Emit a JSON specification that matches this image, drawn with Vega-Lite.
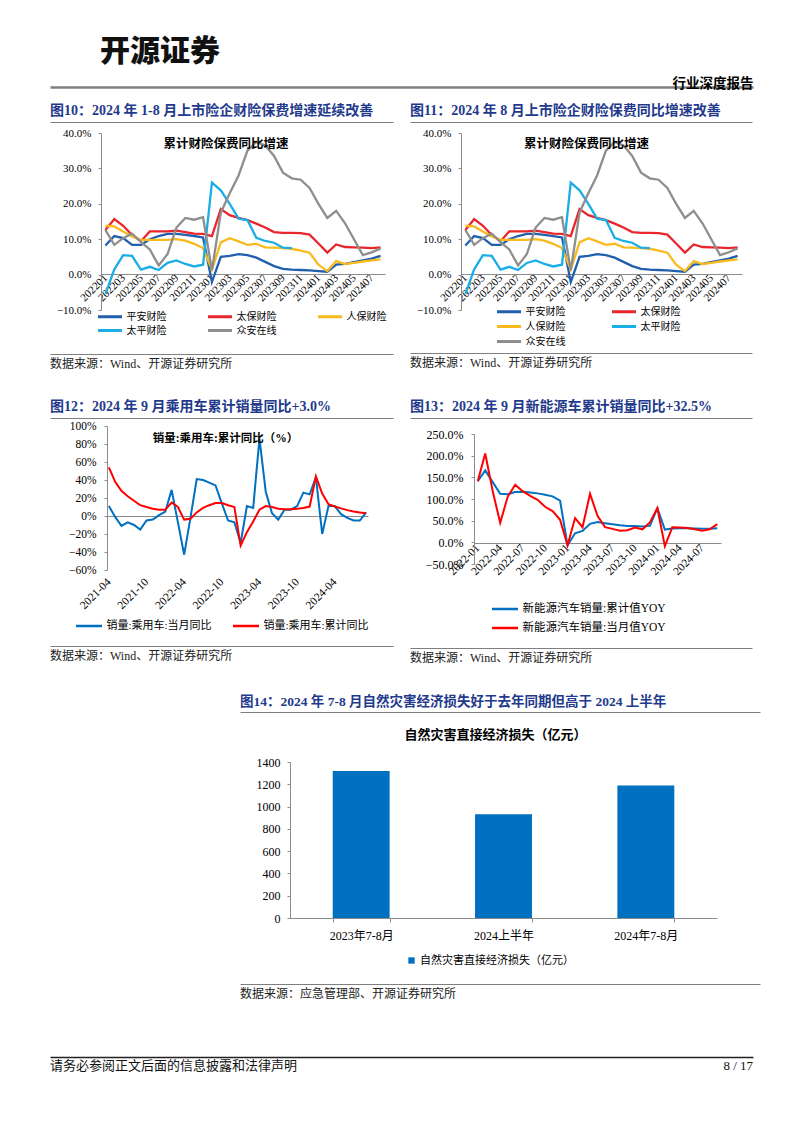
{
"$schema": "https://vega.github.io/schema/vega-lite/v6.json",
"background": "white",
"padding": {"left": 50, "top": 37, "right": 10, "bottom": 5},
"config": {
 "font": "Liberation Serif, Noto Sans CJK SC",
 "view": {"stroke": null},
 "axis": {"grid": false, "domainColor": "#8c8c8c", "tickColor": "#8c8c8c", "labelColor": "#000000"},
 "legend": {"labelColor": "#000000"},
 "title": {"color": "#000000"}
},
"datasets": {
 "ins": [
{"m":"202201","s":"平安财险","v":8.2},{"m":"202202","s":"平安财险","v":10.9},{"m":"202203","s":"平安财险","v":10.3},{"m":"202204","s":"平安财险","v":8.4},{"m":"202205","s":"平安财险","v":8.4},{"m":"202206","s":"平安财险","v":10.0},{"m":"202207","s":"平安财险","v":10.9},{"m":"202208","s":"平安财险","v":11.5},{"m":"202209","s":"平安财险","v":11.5},{"m":"202210","s":"平安财险","v":11.2},{"m":"202211","s":"平安财险","v":10.9},{"m":"202212","s":"平安财险","v":10.5},{"m":"202301","s":"平安财险","v":-2.1},{"m":"202302","s":"平安财险","v":5.0},{"m":"202303","s":"平安财险","v":5.3},{"m":"202304","s":"平安财险","v":5.8},{"m":"202305","s":"平安财险","v":5.5},{"m":"202306","s":"平安财险","v":4.8},{"m":"202307","s":"平安财险","v":3.6},{"m":"202308","s":"平安财险","v":2.4},{"m":"202309","s":"平安财险","v":1.6},{"m":"202310","s":"平安财险","v":1.4},{"m":"202311","s":"平安财险","v":1.3},{"m":"202312","s":"平安财险","v":1.2},{"m":"202401","s":"平安财险","v":1.0},{"m":"202402","s":"平安财险","v":0.8},{"m":"202403","s":"平安财险","v":2.8},{"m":"202404","s":"平安财险","v":3.0},{"m":"202405","s":"平安财险","v":3.5},{"m":"202406","s":"平安财险","v":4.0},{"m":"202407","s":"平安财险","v":4.5},{"m":"202408","s":"平安财险","v":5.3},
{"m":"202201","s":"太保财险","v":12.6},{"m":"202202","s":"太保财险","v":15.7},{"m":"202203","s":"太保财险","v":13.8},{"m":"202204","s":"太保财险","v":11.2},{"m":"202205","s":"太保财险","v":9.4},{"m":"202206","s":"太保财险","v":12.2},{"m":"202207","s":"太保财险","v":12.2},{"m":"202208","s":"太保财险","v":12.2},{"m":"202209","s":"太保财险","v":12.4},{"m":"202210","s":"太保财险","v":12.0},{"m":"202211","s":"太保财险","v":11.6},{"m":"202212","s":"太保财险","v":11.5},{"m":"202301","s":"太保财险","v":10.9},{"m":"202302","s":"太保财险","v":18.5},{"m":"202303","s":"太保财险","v":16.8},{"m":"202304","s":"太保财险","v":16.0},{"m":"202305","s":"太保财险","v":15.4},{"m":"202306","s":"太保财险","v":14.4},{"m":"202307","s":"太保财险","v":13.3},{"m":"202308","s":"太保财险","v":12.0},{"m":"202309","s":"太保财险","v":11.8},{"m":"202310","s":"太保财险","v":11.8},{"m":"202311","s":"太保财险","v":11.7},{"m":"202312","s":"太保财险","v":11.3},{"m":"202401","s":"太保财险","v":8.8},{"m":"202402","s":"太保财险","v":6.2},{"m":"202403","s":"太保财险","v":8.5},{"m":"202404","s":"太保财险","v":7.8},{"m":"202405","s":"太保财险","v":7.7},{"m":"202406","s":"太保财险","v":7.6},{"m":"202407","s":"太保财险","v":7.5},{"m":"202408","s":"太保财险","v":7.7},
{"m":"202201","s":"人保财险","v":13.8},{"m":"202202","s":"人保财险","v":13.6},{"m":"202203","s":"人保财险","v":12.2},{"m":"202204","s":"人保财险","v":10.8},{"m":"202205","s":"人保财险","v":9.8},{"m":"202206","s":"人保财险","v":9.8},{"m":"202207","s":"人保财险","v":9.8},{"m":"202208","s":"人保财险","v":9.8},{"m":"202209","s":"人保财险","v":10.0},{"m":"202210","s":"人保财险","v":9.6},{"m":"202211","s":"人保财险","v":8.7},{"m":"202212","s":"人保财险","v":7.5},{"m":"202301","s":"人保财险","v":1.4},{"m":"202302","s":"人保财险","v":9.1},{"m":"202303","s":"人保财险","v":10.3},{"m":"202304","s":"人保财险","v":9.4},{"m":"202305","s":"人保财险","v":8.4},{"m":"202306","s":"人保财险","v":8.7},{"m":"202307","s":"人保财险","v":7.7},{"m":"202308","s":"人保财险","v":7.6},{"m":"202309","s":"人保财险","v":7.5},{"m":"202310","s":"人保财险","v":7.3},{"m":"202311","s":"人保财险","v":6.8},{"m":"202312","s":"人保财险","v":6.2},{"m":"202401","s":"人保财险","v":2.8},{"m":"202402","s":"人保财险","v":1.0},{"m":"202403","s":"人保财险","v":3.8},{"m":"202404","s":"人保财险","v":3.0},{"m":"202405","s":"人保财险","v":3.3},{"m":"202406","s":"人保财险","v":3.7},{"m":"202407","s":"人保财险","v":4.0},{"m":"202408","s":"人保财险","v":4.3},
{"m":"202201","s":"太平财险","v":-5.5},{"m":"202202","s":"太平财险","v":1.5},{"m":"202203","s":"太平财险","v":5.5},{"m":"202204","s":"太平财险","v":5.3},{"m":"202205","s":"太平财险","v":1.4},{"m":"202206","s":"太平财险","v":2.2},{"m":"202207","s":"太平财险","v":1.3},{"m":"202208","s":"太平财险","v":3.3},{"m":"202209","s":"太平财险","v":4.0},{"m":"202210","s":"太平财险","v":3.0},{"m":"202211","s":"太平财险","v":2.3},{"m":"202212","s":"太平财险","v":2.8},{"m":"202301","s":"太平财险","v":26.0},{"m":"202302","s":"太平财险","v":23.8},{"m":"202303","s":"太平财险","v":20.0},{"m":"202304","s":"太平财险","v":15.8},{"m":"202305","s":"太平财险","v":15.4},{"m":"202306","s":"太平财险","v":10.4},{"m":"202307","s":"太平财险","v":9.5},{"m":"202308","s":"太平财险","v":9.0},{"m":"202309","s":"太平财险","v":7.6},{"m":"202310","s":"太平财险","v":7.5},
{"m":"202201","s":"众安在线","v":12.6},{"m":"202202","s":"众安在线","v":8.4},{"m":"202203","s":"众安在线","v":10.3},{"m":"202204","s":"众安在线","v":11.6},{"m":"202205","s":"众安在线","v":9.2},{"m":"202206","s":"众安在线","v":7.1},{"m":"202207","s":"众安在线","v":2.6},{"m":"202208","s":"众安在线","v":5.8},{"m":"202209","s":"众安在线","v":13.3},{"m":"202210","s":"众安在线","v":16.0},{"m":"202211","s":"众安在线","v":15.5},{"m":"202212","s":"众安在线","v":16.2},{"m":"202301","s":"众安在线","v":1.2},{"m":"202302","s":"众安在线","v":17.5},{"m":"202303","s":"众安在线","v":23.0},{"m":"202304","s":"众安在线","v":28.0},{"m":"202305","s":"众安在线","v":35.0},{"m":"202306","s":"众安在线","v":37.5},{"m":"202307","s":"众安在线","v":36.5},{"m":"202308","s":"众安在线","v":33.5},{"m":"202309","s":"众安在线","v":28.8},{"m":"202310","s":"众安在线","v":27.2},{"m":"202311","s":"众安在线","v":26.8},{"m":"202312","s":"众安在线","v":24.5},{"m":"202401","s":"众安在线","v":20.0},{"m":"202402","s":"众安在线","v":16.0},{"m":"202403","s":"众安在线","v":18.0},{"m":"202404","s":"众安在线","v":14.5},{"m":"202405","s":"众安在线","v":10.0},{"m":"202406","s":"众安在线","v":5.5},{"m":"202407","s":"众安在线","v":6.3},{"m":"202408","s":"众安在线","v":7.4}
 ],
 "car": [
{"m":"2021-04","s":"销量:乘用车:当月同比","v":11},{"m":"2021-05","s":"销量:乘用车:当月同比","v":-1},{"m":"2021-06","s":"销量:乘用车:当月同比","v":-11},{"m":"2021-07","s":"销量:乘用车:当月同比","v":-7},{"m":"2021-08","s":"销量:乘用车:当月同比","v":-10},{"m":"2021-09","s":"销量:乘用车:当月同比","v":-15},{"m":"2021-10","s":"销量:乘用车:当月同比","v":-5},{"m":"2021-11","s":"销量:乘用车:当月同比","v":-4},{"m":"2021-12","s":"销量:乘用车:当月同比","v":1},
{"m":"2022-01","s":"销量:乘用车:当月同比","v":5},{"m":"2022-02","s":"销量:乘用车:当月同比","v":29},{"m":"2022-03","s":"销量:乘用车:当月同比","v":-7},{"m":"2022-04","s":"销量:乘用车:当月同比","v":-43},{"m":"2022-05","s":"销量:乘用车:当月同比","v":-2},{"m":"2022-06","s":"销量:乘用车:当月同比","v":41},{"m":"2022-07","s":"销量:乘用车:当月同比","v":40},{"m":"2022-08","s":"销量:乘用车:当月同比","v":37},{"m":"2022-09","s":"销量:乘用车:当月同比","v":34},{"m":"2022-10","s":"销量:乘用车:当月同比","v":14},{"m":"2022-11","s":"销量:乘用车:当月同比","v":-5},{"m":"2022-12","s":"销量:乘用车:当月同比","v":-7},
{"m":"2023-01","s":"销量:乘用车:当月同比","v":-30},{"m":"2023-02","s":"销量:乘用车:当月同比","v":11},{"m":"2023-03","s":"销量:乘用车:当月同比","v":9},{"m":"2023-04","s":"销量:乘用车:当月同比","v":86},{"m":"2023-05","s":"销量:乘用车:当月同比","v":27},{"m":"2023-06","s":"销量:乘用车:当月同比","v":3},{"m":"2023-07","s":"销量:乘用车:当月同比","v":-4},{"m":"2023-08","s":"销量:乘用车:当月同比","v":7},{"m":"2023-09","s":"销量:乘用车:当月同比","v":7},{"m":"2023-10","s":"销量:乘用车:当月同比","v":11},{"m":"2023-11","s":"销量:乘用车:当月同比","v":26},{"m":"2023-12","s":"销量:乘用车:当月同比","v":24},
{"m":"2024-01","s":"销量:乘用车:当月同比","v":43},{"m":"2024-02","s":"销量:乘用车:当月同比","v":-20},{"m":"2024-03","s":"销量:乘用车:当月同比","v":11},{"m":"2024-04","s":"销量:乘用车:当月同比","v":11},{"m":"2024-05","s":"销量:乘用车:当月同比","v":2},{"m":"2024-06","s":"销量:乘用车:当月同比","v":-2},{"m":"2024-07","s":"销量:乘用车:当月同比","v":-5},{"m":"2024-08","s":"销量:乘用车:当月同比","v":-5},{"m":"2024-09","s":"销量:乘用车:当月同比","v":4},
{"m":"2021-04","s":"销量:乘用车:累计同比","v":54},{"m":"2021-05","s":"销量:乘用车:累计同比","v":38},{"m":"2021-06","s":"销量:乘用车:累计同比","v":28},{"m":"2021-07","s":"销量:乘用车:累计同比","v":22},{"m":"2021-08","s":"销量:乘用车:累计同比","v":17},{"m":"2021-09","s":"销量:乘用车:累计同比","v":12},{"m":"2021-10","s":"销量:乘用车:累计同比","v":10},{"m":"2021-11","s":"销量:乘用车:累计同比","v":8},{"m":"2021-12","s":"销量:乘用车:累计同比","v":7},
{"m":"2022-01","s":"销量:乘用车:累计同比","v":7},{"m":"2022-02","s":"销量:乘用车:累计同比","v":15},{"m":"2022-03","s":"销量:乘用车:累计同比","v":10},{"m":"2022-04","s":"销量:乘用车:累计同比","v":-4},{"m":"2022-05","s":"销量:乘用车:累计同比","v":-3},{"m":"2022-06","s":"销量:乘用车:累计同比","v":4},{"m":"2022-07","s":"销量:乘用车:累计同比","v":9},{"m":"2022-08","s":"销量:乘用车:累计同比","v":12},{"m":"2022-09","s":"销量:乘用车:累计同比","v":14.5},{"m":"2022-10","s":"销量:乘用车:累计同比","v":14.5},{"m":"2022-11","s":"销量:乘用车:累计同比","v":12},{"m":"2022-12","s":"销量:乘用车:累计同比","v":10},
{"m":"2023-01","s":"销量:乘用车:累计同比","v":-33},{"m":"2023-02","s":"销量:乘用车:累计同比","v":-18},{"m":"2023-03","s":"销量:乘用车:累计同比","v":-6},{"m":"2023-04","s":"销量:乘用车:累计同比","v":7},{"m":"2023-05","s":"销量:乘用车:累计同比","v":11},{"m":"2023-06","s":"销量:乘用车:累计同比","v":10},{"m":"2023-07","s":"销量:乘用车:累计同比","v":8},{"m":"2023-08","s":"销量:乘用车:累计同比","v":7.5},{"m":"2023-09","s":"销量:乘用车:累计同比","v":7.5},{"m":"2023-10","s":"销量:乘用车:累计同比","v":8},{"m":"2023-11","s":"销量:乘用车:累计同比","v":9},{"m":"2023-12","s":"销量:乘用车:累计同比","v":10.5},
{"m":"2024-01","s":"销量:乘用车:累计同比","v":44},{"m":"2024-02","s":"销量:乘用车:累计同比","v":25},{"m":"2024-03","s":"销量:乘用车:累计同比","v":13},{"m":"2024-04","s":"销量:乘用车:累计同比","v":10.5},{"m":"2024-05","s":"销量:乘用车:累计同比","v":8.5},{"m":"2024-06","s":"销量:乘用车:累计同比","v":6.5},{"m":"2024-07","s":"销量:乘用车:累计同比","v":5},{"m":"2024-08","s":"销量:乘用车:累计同比","v":4},{"m":"2024-09","s":"销量:乘用车:累计同比","v":3}
 ],
 "nev": [
{"m":"2022-01","s":"新能源汽车销量:累计值YOY","v":141},{"m":"2022-02","s":"新能源汽车销量:累计值YOY","v":166},{"m":"2022-03","s":"新能源汽车销量:累计值YOY","v":139},{"m":"2022-04","s":"新能源汽车销量:累计值YOY","v":112},{"m":"2022-05","s":"新能源汽车销量:累计值YOY","v":111},{"m":"2022-06","s":"新能源汽车销量:累计值YOY","v":116},{"m":"2022-07","s":"新能源汽车销量:累计值YOY","v":117},{"m":"2022-08","s":"新能源汽车销量:累计值YOY","v":115},{"m":"2022-09","s":"新能源汽车销量:累计值YOY","v":113},{"m":"2022-10","s":"新能源汽车销量:累计值YOY","v":110},{"m":"2022-11","s":"新能源汽车销量:累计值YOY","v":106},{"m":"2022-12","s":"新能源汽车销量:累计值YOY","v":96},
{"m":"2023-01","s":"新能源汽车销量:累计值YOY","v":-6.9},{"m":"2023-02","s":"新能源汽车销量:累计值YOY","v":20.8},{"m":"2023-03","s":"新能源汽车销量:累计值YOY","v":26.2},{"m":"2023-04","s":"新能源汽车销量:累计值YOY","v":42.8},{"m":"2023-05","s":"新能源汽车销量:累计值YOY","v":46.8},{"m":"2023-06","s":"新能源汽车销量:累计值YOY","v":44.1},{"m":"2023-07","s":"新能源汽车销量:累计值YOY","v":41.7},{"m":"2023-08","s":"新能源汽车销量:累计值YOY","v":39.2},{"m":"2023-09","s":"新能源汽车销量:累计值YOY","v":37.8},{"m":"2023-10","s":"新能源汽车销量:累计值YOY","v":37.5},{"m":"2023-11","s":"新能源汽车销量:累计值YOY","v":36.7},{"m":"2023-12","s":"新能源汽车销量:累计值YOY","v":37.9},
{"m":"2024-01","s":"新能源汽车销量:累计值YOY","v":78.8},{"m":"2024-02","s":"新能源汽车销量:累计值YOY","v":29.4},{"m":"2024-03","s":"新能源汽车销量:累计值YOY","v":31.8},{"m":"2024-04","s":"新能源汽车销量:累计值YOY","v":32.3},{"m":"2024-05","s":"新能源汽车销量:累计值YOY","v":32.5},{"m":"2024-06","s":"新能源汽车销量:累计值YOY","v":32.0},{"m":"2024-07","s":"新能源汽车销量:累计值YOY","v":31.1},{"m":"2024-08","s":"新能源汽车销量:累计值YOY","v":31.2},{"m":"2024-09","s":"新能源汽车销量:累计值YOY","v":32.5},
{"m":"2022-01","s":"新能源汽车销量:当月值YOY","v":141},{"m":"2022-02","s":"新能源汽车销量:当月值YOY","v":205},{"m":"2022-03","s":"新能源汽车销量:当月值YOY","v":118},{"m":"2022-04","s":"新能源汽车销量:当月值YOY","v":45},{"m":"2022-05","s":"新能源汽车销量:当月值YOY","v":105},{"m":"2022-06","s":"新能源汽车销量:当月值YOY","v":133},{"m":"2022-07","s":"新能源汽车销量:当月值YOY","v":118},{"m":"2022-08","s":"新能源汽车销量:当月值YOY","v":107},{"m":"2022-09","s":"新能源汽车销量:当月值YOY","v":98},{"m":"2022-10","s":"新能源汽车销量:当月值YOY","v":82},{"m":"2022-11","s":"新能源汽车销量:当月值YOY","v":72},{"m":"2022-12","s":"新能源汽车销量:当月值YOY","v":52},
{"m":"2023-01","s":"新能源汽车销量:当月值YOY","v":-6.9},{"m":"2023-02","s":"新能源汽车销量:当月值YOY","v":56},{"m":"2023-03","s":"新能源汽车销量:当月值YOY","v":35},{"m":"2023-04","s":"新能源汽车销量:当月值YOY","v":112},{"m":"2023-05","s":"新能源汽车销量:当月值YOY","v":61},{"m":"2023-06","s":"新能源汽车销量:当月值YOY","v":35},{"m":"2023-07","s":"新能源汽车销量:当月值YOY","v":31},{"m":"2023-08","s":"新能源汽车销量:当月值YOY","v":27},{"m":"2023-09","s":"新能源汽车销量:当月值YOY","v":28},{"m":"2023-10","s":"新能源汽车销量:当月值YOY","v":34},{"m":"2023-11","s":"新能源汽车销量:当月值YOY","v":30},{"m":"2023-12","s":"新能源汽车销量:当月值YOY","v":46},
{"m":"2024-01","s":"新能源汽车销量:当月值YOY","v":79},{"m":"2024-02","s":"新能源汽车销量:当月值YOY","v":-9},{"m":"2024-03","s":"新能源汽车销量:当月值YOY","v":35},{"m":"2024-04","s":"新能源汽车销量:当月值YOY","v":34},{"m":"2024-05","s":"新能源汽车销量:当月值YOY","v":33},{"m":"2024-06","s":"新能源汽车销量:当月值YOY","v":30},{"m":"2024-07","s":"新能源汽车销量:当月值YOY","v":27},{"m":"2024-08","s":"新能源汽车销量:当月值YOY","v":30},{"m":"2024-09","s":"新能源汽车销量:当月值YOY","v":42}
 ],
 "dis": [
{"c":"2023年7-8月","v":1320},{"c":"2024上半年","v":931.6},{"c":"2024年7-8月","v":1190}
 ],
 "one": [{"v": 0}]
},
"spacing": 14,
"resolve": {"scale": {"color": "independent"}, "legend": {"color": "independent"}},
"vconcat": [
 {
  "width": 703, "height": 1,
  "data": {"name": "one"},
  "mark": {"type": "point", "size": 0, "opacity": 0},
  "encoding": {"x": {"field": "v", "type": "quantitative", "scale": {"domain": [0, 1]}, "axis": {"orient": "top", "ticks": false, "labels": false, "domainColor": "#7f7f7f", "domainWidth": 2.5, "title": "行业深度报告", "titleAnchor": "end", "titleFontSize": 13.5, "titleFontWeight": "bold", "titlePadding": -3, "titleColor": "#000000", "titleFont": "Noto Sans CJK SC"}}},
  "title": {"text": "开源证券", "anchor": "start", "dx": 50, "offset": 9, "fontSize": 30, "fontWeight": 900, "font": "Noto Sans CJK SC", "color": "#111111"}
 },
 {
  "spacing": 30,
  "resolve": {"scale": {"color": "independent"}, "legend": {"color": "independent"}},
  "vconcat": [
   {
    "spacing": 17,
    "resolve": {"scale": {"color": "independent"}, "legend": {"color": "independent"}},
    "hconcat": [
     {
      "spacing": 4,
      "resolve": {"scale": {"color": "independent"}, "legend": {"color": "independent"}},
      "vconcat": [
       {
        "width": 343, "height": 1,
        "data": {"name": "one"},
        "mark": {"type": "point", "size": 0, "opacity": 0},
        "encoding": {"x": {"field": "v", "type": "quantitative", "scale": {"domain": [0, 1]}, "axis": {"orient": "top", "ticks": false, "labels": false, "title": null, "domainColor": "#7f7f7f", "domainWidth": 1.2}}},
        "title": {"text": "图10：2024 年 1-8 月上市险企财险保费增速延续改善", "anchor": "start", "fontSize": 14, "fontWeight": "bold", "color": "#233A8C", "offset": 4}
       },
       {
        "spacing": 17,
        "resolve": {"scale": {"color": "independent"}, "legend": {"color": "independent"}},
        "vconcat": [
         {
          "spacing": 0,
          "resolve": {"scale": {"color": "independent"}, "legend": {"color": "independent"}},
          "hconcat": [
           {"width": 1, "height": 1, "data": {"name": "one"}, "mark": {"type": "point", "size": 0, "opacity": 0}},
           {
            "width": 284, "height": 177,
            "data": {"name": "ins"},
            "title": {"text": "累计财险保费同比增速", "anchor": "middle", "frame": "group", "dx": -17, "offset": -23, "fontSize": 12.5, "fontWeight": "bold"},
            "mark": {"type": "line", "strokeWidth": 2.3},
            "encoding": {
             "x": {"field": "m", "type": "ordinal", "scale": {"type": "point", "padding": 0.5}, "axis": {"title": null, "offset": -36, "values": ["202201","202203","202205","202207","202209","202211","202301","202303","202305","202307","202309","202311","202401","202403","202405","202407"], "labelAngle": -45, "labelAlign": "right", "labelBaseline": "middle", "labelFontSize": 11, "labelPadding": 2, "ticks": false, "labelOverlap": false}},
             "y": {"field": "v", "type": "quantitative", "scale": {"domain": [-10, 40], "nice": false}, "axis": {"title": null, "values": [-10,0,10,20,30,40], "labelExpr": "format(datum.value, '.1f') + '%'", "tickSize": 3, "labelPadding": 7, "labelFontSize": 11, "labelOverlap": false, "minExtent": 50, "maxExtent": 50}},
             "color": {"field": "s", "type": "nominal", "scale": {"domain": ["平安财险","太保财险","人保财险","太平财险","众安在线"], "range": ["#1F5FAD","#E8262C","#F8BA1C","#1AADE6","#8E8E8E"]}, "legend": {"orient": "none", "legendX": 1.5, "legendY": 176, "direction": "horizontal", "columns": 3, "title": null, "symbolType": "M-2,0H2", "symbolStrokeWidth": 3, "symbolSize": 144, "labelFontSize": 10, "columnPadding": 35, "rowPadding": 0, "labelOffset": 9}}
            }
           }
          ]
         },
         {
          "width": 343, "height": 1,
          "data": {"name": "one"},
          "mark": {"type": "point", "size": 0, "opacity": 0},
          "encoding": {"x": {"field": "v", "type": "quantitative", "scale": {"domain": [0, 1]}, "axis": {"orient": "top", "ticks": false, "labels": false, "title": null, "domainColor": "#7f7f7f", "domainWidth": 1.2}}},
          "title": {"text": "数据来源：Wind、开源证券研究所", "orient": "bottom", "anchor": "start", "fontSize": 12, "fontWeight": "normal", "offset": 4, "color": "#222222"}
         }
        ]
       }
      ]
     },
     {
      "spacing": 4,
      "resolve": {"scale": {"color": "independent"}, "legend": {"color": "independent"}},
      "vconcat": [
       {
        "width": 342, "height": 1,
        "data": {"name": "one"},
        "mark": {"type": "point", "size": 0, "opacity": 0},
        "encoding": {"x": {"field": "v", "type": "quantitative", "scale": {"domain": [0, 1]}, "axis": {"orient": "top", "ticks": false, "labels": false, "title": null, "domainColor": "#7f7f7f", "domainWidth": 1.2}}},
        "title": {"text": "图11：2024 年 8 月上市险企财险保费同比增速改善", "anchor": "start", "fontSize": 14, "fontWeight": "bold", "color": "#233A8C", "offset": 4}
       },
       {
        "spacing": 5,
        "resolve": {"scale": {"color": "independent"}, "legend": {"color": "independent"}},
        "vconcat": [
         {
          "spacing": 0,
          "resolve": {"scale": {"color": "independent"}, "legend": {"color": "independent"}},
          "hconcat": [
           {"width": 1, "height": 1, "data": {"name": "one"}, "mark": {"type": "point", "size": 0, "opacity": 0}},
           {
            "width": 281, "height": 177,
            "data": {"name": "ins"},
            "title": {"text": "累计财险保费同比增速", "anchor": "middle", "frame": "group", "dx": -15, "offset": -23, "fontSize": 12.5, "fontWeight": "bold"},
            "mark": {"type": "line", "strokeWidth": 2.3},
            "encoding": {
             "x": {"field": "m", "type": "ordinal", "scale": {"type": "point", "padding": 0.5}, "axis": {"title": null, "offset": -36, "values": ["202201","202203","202205","202207","202209","202211","202301","202303","202305","202307","202309","202311","202401","202403","202405","202407"], "labelAngle": -45, "labelAlign": "right", "labelBaseline": "middle", "labelFontSize": 11, "labelPadding": 2, "ticks": false, "labelOverlap": false}},
             "y": {"field": "v", "type": "quantitative", "scale": {"domain": [-10, 40], "nice": false}, "axis": {"title": null, "values": [-10,0,10,20,30,40], "labelExpr": "format(datum.value, '.1f') + '%'", "tickSize": 3, "labelPadding": 7, "labelFontSize": 11, "labelOverlap": false, "minExtent": 50, "maxExtent": 50}},
             "color": {"field": "s", "type": "nominal", "scale": {"domain": ["平安财险","太保财险","人保财险","太平财险","众安在线"], "range": ["#1F5FAD","#E8262C","#F8BA1C","#1AADE6","#8E8E8E"]}, "legend": {"orient": "none", "legendX": 40.5, "legendY": 171, "direction": "horizontal", "columns": 2, "title": null, "symbolType": "M-2,0H2", "symbolStrokeWidth": 3, "symbolSize": 144, "labelFontSize": 10, "columnPadding": 40, "rowPadding": 1, "labelOffset": 9}}
            }
           }
          ]
         },
         {
          "width": 342, "height": 1,
          "data": {"name": "one"},
          "mark": {"type": "point", "size": 0, "opacity": 0},
          "encoding": {"x": {"field": "v", "type": "quantitative", "scale": {"domain": [0, 1]}, "axis": {"orient": "top", "ticks": false, "labels": false, "title": null, "domainColor": "#7f7f7f", "domainWidth": 1.2}}},
          "title": {"text": "数据来源：Wind、开源证券研究所", "orient": "bottom", "anchor": "start", "fontSize": 12, "fontWeight": "normal", "offset": 4, "color": "#222222"}
         }
        ]
       }
      ]
     }
    ]
   },
   {
    "spacing": 17,
    "resolve": {"scale": {"color": "independent"}, "legend": {"color": "independent"}},
    "hconcat": [
     {
      "spacing": 1,
      "resolve": {"scale": {"color": "independent"}, "legend": {"color": "independent"}},
      "vconcat": [
       {
        "width": 343, "height": 1,
        "data": {"name": "one"},
        "mark": {"type": "point", "size": 0, "opacity": 0},
        "encoding": {"x": {"field": "v", "type": "quantitative", "scale": {"domain": [0, 1]}, "axis": {"orient": "top", "ticks": false, "labels": false, "title": null, "domainColor": "#7f7f7f", "domainWidth": 1.2}}},
        "title": {"text": "图12：2024 年 9 月乘用车累计销量同比+3.0%", "anchor": "start", "fontSize": 14, "fontWeight": "bold", "color": "#233A8C", "offset": 4}
       },
       {
        "spacing": 15,
        "resolve": {"scale": {"color": "independent"}, "legend": {"color": "independent"}},
        "vconcat": [
         {
          "spacing": 0,
          "resolve": {"scale": {"color": "independent"}, "legend": {"color": "independent"}},
          "hconcat": [
           {"width": 1, "height": 1, "data": {"name": "one"}, "mark": {"type": "point", "size": 0, "opacity": 0}},
           {
            "width": 261, "height": 144,
            "data": {"name": "car"},
            "title": {"text": "销量:乘用车:累计同比（%）", "anchor": "middle", "frame": "group", "dx": -12, "offset": -24, "fontSize": 11.5, "fontWeight": "bold"},
            "mark": {"type": "line", "strokeWidth": 2},
            "encoding": {
             "x": {"field": "m", "type": "ordinal", "scale": {"type": "point", "padding": 0.3}, "axis": {"title": null, "values": ["2021-04","2021-10","2022-04","2022-10","2023-04","2023-10","2024-04"], "labelAngle": -45, "labelAlign": "right", "labelBaseline": "middle", "labelFontSize": 11.5, "labelPadding": 10, "ticks": false, "domain": false, "labelOverlap": false}},
             "y": {"field": "v", "type": "quantitative", "scale": {"domain": [-60, 100], "nice": false}, "axis": {"title": null, "values": [-60,-40,-20,0,20,40,60,80,100], "labelExpr": "format(datum.value, 'd') + '%'", "tickSize": 3, "labelPadding": 8, "labelFontSize": 11.5, "labelOverlap": false, "grid": true, "gridWidth": 1, "gridColor": {"condition": {"test": "datum.value === 0", "value": "#8c8c8c"}, "value": "transparent"}, "minExtent": 56, "maxExtent": 56}},
             "color": {"field": "s", "type": "nominal", "scale": {"domain": ["销量:乘用车:当月同比", "销量:乘用车:累计同比"], "range": ["#0070C0", "#FF0000"]}, "legend": {"orient": "none", "legendX": -26, "legendY": 192, "direction": "horizontal", "title": null, "symbolType": "M-2,0H2", "symbolStrokeWidth": 2.5, "symbolSize": 169, "labelFontSize": 11, "columnPadding": 16, "labelOffset": 9.5}}
            }
           }
          ]
         },
         {
          "width": 343, "height": 1,
          "data": {"name": "one"},
          "mark": {"type": "point", "size": 0, "opacity": 0},
          "encoding": {"x": {"field": "v", "type": "quantitative", "scale": {"domain": [0, 1]}, "axis": {"orient": "top", "ticks": false, "labels": false, "title": null, "domainColor": "#7f7f7f", "domainWidth": 1.2}}},
          "title": {"text": "数据来源：Wind、开源证券研究所", "orient": "bottom", "anchor": "start", "fontSize": 12, "fontWeight": "normal", "offset": 4, "color": "#222222"}
         }
        ]
       }
      ]
     },
     {
      "spacing": 9,
      "resolve": {"scale": {"color": "independent"}, "legend": {"color": "independent"}},
      "vconcat": [
       {
        "width": 342, "height": 1,
        "data": {"name": "one"},
        "mark": {"type": "point", "size": 0, "opacity": 0},
        "encoding": {"x": {"field": "v", "type": "quantitative", "scale": {"domain": [0, 1]}, "axis": {"orient": "top", "ticks": false, "labels": false, "title": null, "domainColor": "#7f7f7f", "domainWidth": 1.2}}},
        "title": {"text": "图13：2024 年 9 月新能源车累计销量同比+32.5%", "anchor": "start", "fontSize": 14, "fontWeight": "bold", "color": "#233A8C", "offset": 4}
       },
       {
        "spacing": 14,
        "resolve": {"scale": {"color": "independent"}, "legend": {"color": "independent"}},
        "vconcat": [
         {
          "spacing": 0,
          "resolve": {"scale": {"color": "independent"}, "legend": {"color": "independent"}},
          "hconcat": [
           {"width": 1, "height": 1, "data": {"name": "one"}, "mark": {"type": "point", "size": 0, "opacity": 0}},
           {
            "width": 247, "height": 130,
            "data": {"name": "nev"},
            "mark": {"type": "line", "strokeWidth": 2},
            "encoding": {
             "x": {"field": "m", "type": "ordinal", "scale": {"type": "point", "padding": 0.5}, "axis": {"title": null, "offset": -21, "values": ["2022-01","2022-04","2022-07","2022-10","2023-01","2023-04","2023-07","2023-10","2024-01","2024-04","2024-07"], "labelAngle": -45, "labelAlign": "right", "labelBaseline": "middle", "labelFontSize": 11.5, "labelPadding": 3, "ticks": false, "labelOverlap": false}},
             "y": {"field": "v", "type": "quantitative", "scale": {"domain": [-50, 250], "nice": false}, "axis": {"title": null, "values": [-50,0,50,100,150,200,250], "labelExpr": "format(datum.value, '.1f') + '%'", "tickSize": 3, "labelPadding": 8, "labelFontSize": 12, "labelOverlap": false, "minExtent": 63, "maxExtent": 63}},
             "color": {"field": "s", "type": "nominal", "scale": {"domain": ["新能源汽车销量:累计值YOY", "新能源汽车销量:当月值YOY"], "range": ["#0070C0", "#FF0000"]}, "legend": {"orient": "none", "legendX": 23, "legendY": 167, "direction": "vertical", "title": null, "symbolType": "M-2,0H2", "symbolStrokeWidth": 2.5, "symbolSize": 169, "labelFontSize": 11.5, "rowPadding": 5, "labelOffset": 9.5}}
            }
           }
          ]
         },
         {
          "width": 342, "height": 1,
          "data": {"name": "one"},
          "mark": {"type": "point", "size": 0, "opacity": 0},
          "encoding": {"x": {"field": "v", "type": "quantitative", "scale": {"domain": [0, 1]}, "axis": {"orient": "top", "ticks": false, "labels": false, "title": null, "domainColor": "#7f7f7f", "domainWidth": 1.2}}},
          "title": {"text": "数据来源：Wind、开源证券研究所", "orient": "bottom", "anchor": "start", "fontSize": 12, "fontWeight": "normal", "offset": 4, "color": "#222222"}
         }
        ]
       }
      ]
     }
    ]
   },
   {
    "spacing": 57,
    "resolve": {"scale": {"color": "independent"}, "legend": {"color": "independent"}},
    "vconcat": [
     {
      "spacing": 0,
      "resolve": {"scale": {"color": "independent"}, "legend": {"color": "independent"}},
      "hconcat": [
       {"width": 190, "height": 1, "data": {"name": "one"}, "mark": {"type": "point", "size": 0, "opacity": 0}},
       {
        "spacing": 16,
        "resolve": {"scale": {"color": "independent"}, "legend": {"color": "independent"}},
        "vconcat": [
         {
          "width": 520, "height": 1,
          "data": {"name": "one"},
          "mark": {"type": "point", "size": 0, "opacity": 0},
          "encoding": {"x": {"field": "v", "type": "quantitative", "scale": {"domain": [0, 1]}, "axis": {"orient": "top", "ticks": false, "labels": false, "title": null, "domainColor": "#7f7f7f", "domainWidth": 1.2}}},
          "title": {"text": "图14：2024 年 7-8 月自然灾害经济损失好于去年同期但高于 2024 上半年", "anchor": "start", "fontSize": 13.5, "fontWeight": "bold", "color": "#233A8C", "offset": 4}
         },
         {
          "spacing": 18,
          "resolve": {"scale": {"color": "independent"}, "legend": {"color": "independent"}},
          "vconcat": [
           {
            "spacing": 0,
            "resolve": {"scale": {"color": "independent"}, "legend": {"color": "independent"}},
            "hconcat": [
             {"width": 1, "height": 1, "data": {"name": "one"}, "mark": {"type": "point", "size": 0, "opacity": 0}},
             {
              "width": 427, "height": 156,
              "data": {"name": "dis"},
              "title": {"text": "自然灾害直接经济损失（亿元）", "anchor": "middle", "frame": "group", "dx": -8, "offset": 14, "fontSize": 13, "fontWeight": "bold"},
              "mark": {"type": "bar", "color": "#0070C0"},
              "encoding": {
               "x": {"field": "c", "type": "nominal", "sort": null, "scale": {"paddingInner": 0.6, "paddingOuter": 0.3}, "axis": {"title": null, "labelAngle": 0, "tickBand": "extent", "tickSize": 4, "labelFontSize": 12, "labelPadding": 8}},
               "y": {"field": "v", "type": "quantitative", "scale": {"domain": [0, 1400], "nice": false}, "axis": {"title": null, "values": [0,200,400,600,800,1000,1200,1400], "format": "d", "tickSize": 3, "labelPadding": 7, "labelFontSize": 12, "labelOverlap": false, "minExtent": 49, "maxExtent": 49}},
               "color": {"datum": "自然灾害直接经济损失（亿元）", "type": "nominal", "scale": {"range": ["#0070C0"]}, "legend": {"orient": "none", "legendX": 116, "legendY": 193, "title": null, "symbolType": "square", "symbolSize": 40, "labelFontSize": 11, "labelOffset": 3}}
              }
             }
            ]
           },
           {
            "width": 520, "height": 1,
            "data": {"name": "one"},
            "mark": {"type": "point", "size": 0, "opacity": 0},
            "encoding": {"x": {"field": "v", "type": "quantitative", "scale": {"domain": [0, 1]}, "axis": {"orient": "top", "ticks": false, "labels": false, "title": null, "domainColor": "#7f7f7f", "domainWidth": 1.2}}},
            "title": {"text": "数据来源：应急管理部、开源证券研究所", "orient": "bottom", "anchor": "start", "fontSize": 12, "fontWeight": "normal", "offset": 4, "color": "#222222"}
           }
          ]
         }
        ]
       }
      ]
     },
     {
      "width": 703, "height": 18,
      "layer": [
       {"data": {"values": [{"t": "请务必参阅正文后面的信息披露和法律声明"}]}, "mark": {"type": "text", "align": "left", "fontSize": 13, "color": "#111111"}, "encoding": {"text": {"field": "t"}, "x": {"datum": 0, "type": "quantitative", "scale": {"domain": [0, 1]}, "axis": {"orient": "top", "ticks": false, "labels": false, "title": null, "domainColor": "#222222", "domainWidth": 1.5}}}},
       {"data": {"values": [{"t": "8 / 17"}]}, "mark": {"type": "text", "align": "right", "fontSize": 13, "color": "#111111"}, "encoding": {"text": {"field": "t"}, "x": {"datum": 1, "type": "quantitative"}}}
      ]
     }
    ]
   }
  ]
 }
]
}
